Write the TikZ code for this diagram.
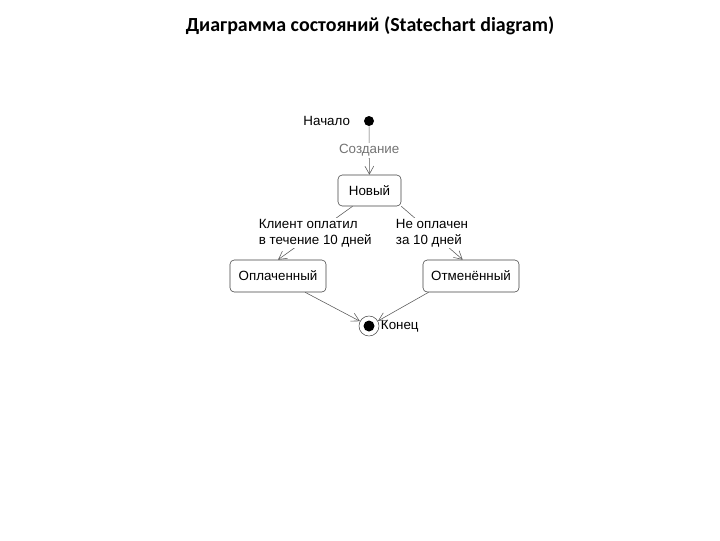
\documentclass[tikz,border=0pt]{standalone}
\usepackage{fontspec}
\setmainfont{Liberation Sans}
\newfontfamily\titlefont{Carlito}
\usetikzlibrary{arrows.meta,positioning}
\begin{document}
\begin{tikzpicture}[x=0.025cm,y=-0.025cm,
        state/.style={draw=black!75,rounded corners=3pt,minimum width=2.4cm,minimum height=0.8cm,font=\fontsize{9.5}{11}\selectfont},
        pseudo/.style={circle,fill=black,inner sep=0pt,minimum size=2.5mm},
        trans/.style={draw=black!65,-{Straight Barb[length=2mm,width=2.2mm]}},
        txt/.style={font=\fontsize{9.5}{11}\selectfont,inner sep=1pt},
        guard/.style={txt,fill=white,align=left}]
        \useasboundingbox (0,0) rectangle (720,540);
        \node[font=\titlefont\bfseries\fontsize{14.2}{16}\selectfont] (title) at (370,26) {Диаграмма состояний (Statechart diagram)};
        % states
        \node[pseudo] (start) at (369,121) {};
        \node[txt,left=3mm of start] (startlbl) {Начало};
        \node[state,minimum width=1.575cm,minimum height=0.775cm] (new) at (369.5,190.5) {Новый};
        \node[state] (paid) at (278,276) {Оплаченный};
        \node[state] (cancel) at (471,276) {Отменённый};
        \node[circle,draw=black!70,minimum size=5mm,inner sep=0pt] (end) at (369,326) {};
        \node[pseudo,minimum size=2.75mm] (endcore) at (end) {};
        \node[txt,right=0mm of end] (endlbl) {Конец};
        % transitions
        \draw[trans] (start) -- node[guard,text=black!55]{Создание} (new);
        \draw[trans] (new.223) -- node[guard]{Клиент оплатил\\в течение 10 дней} (paid.north);
        \draw[trans] (new.south east) -- node[guard]{Не оплачен\\за 10 дней} (cancel.117);
        \draw[trans] (paid.-31) -- (end);
        \draw[trans] (cancel.201) -- (end);
    \end{tikzpicture}
\end{document}
